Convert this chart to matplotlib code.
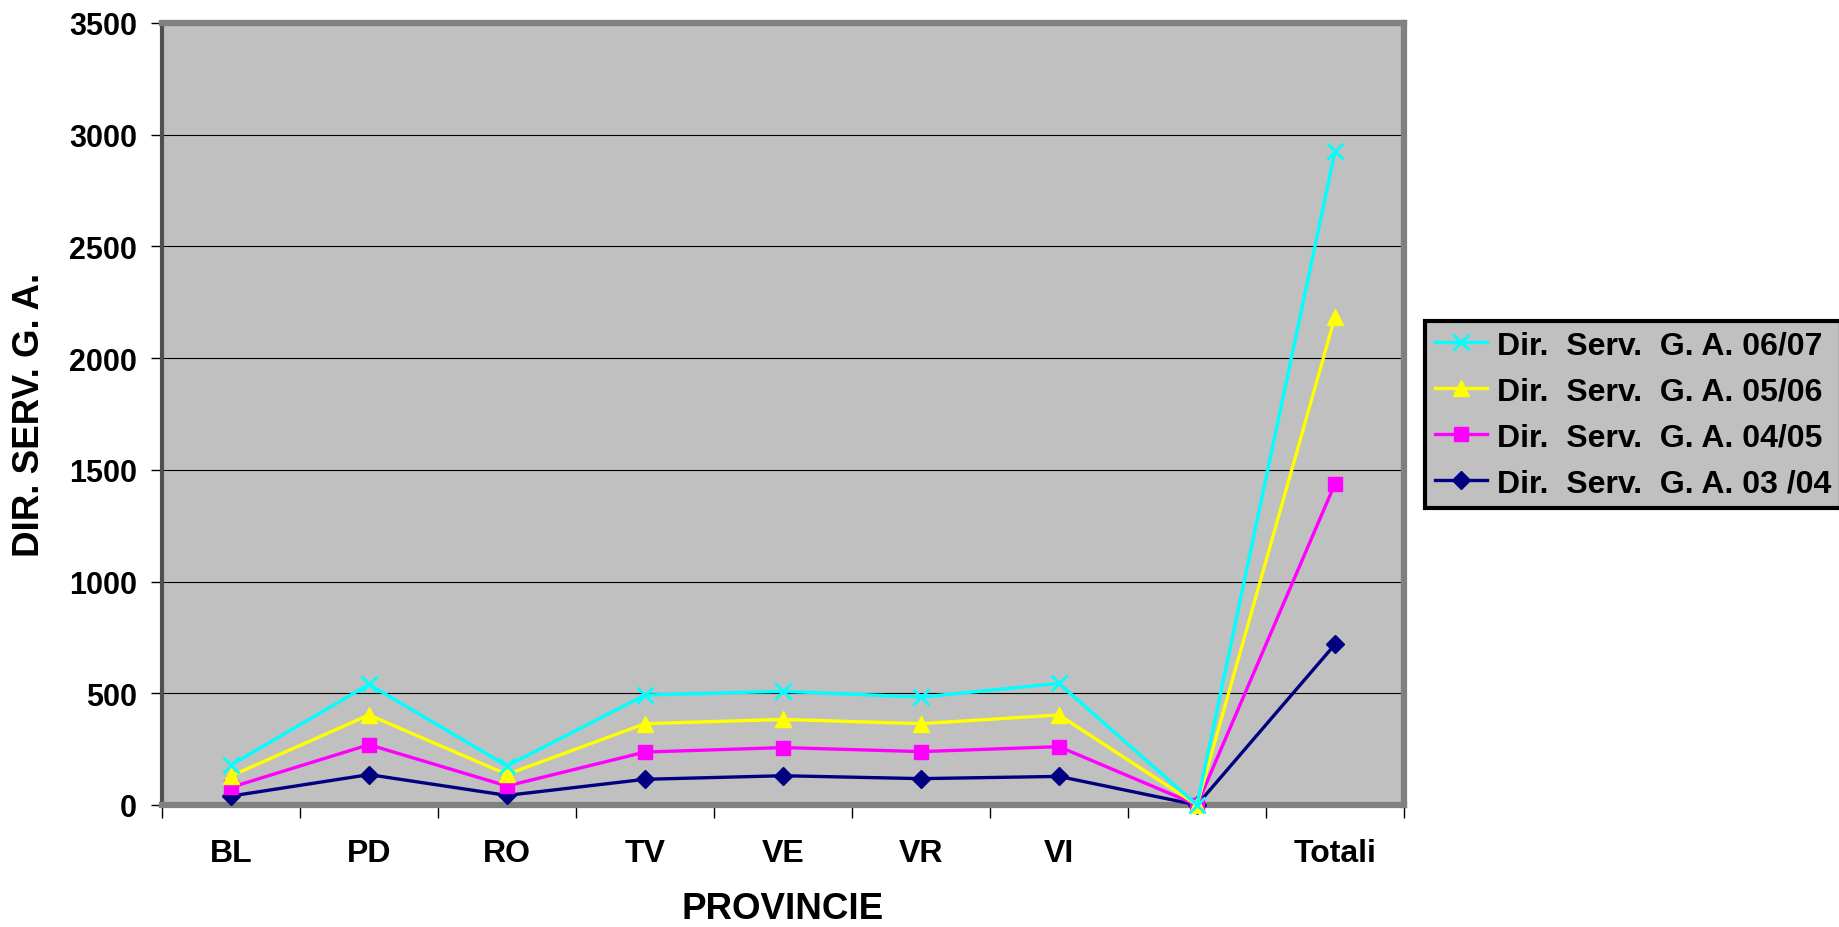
import numpy as np
import matplotlib
matplotlib.use("Agg")
import matplotlib.pyplot as plt

# data
categories = ["BL", "PD", "RO", "TV", "VE", "VR", "VI", "", "Totali"]
ga_0304 = [40, 136, 43, 115, 131, 118, 128, 0, 719]
ga_0405 = [79, 270, 85, 237, 257, 239, 261, 0, 1438]
ga_0506 = [130, 403, 137, 364, 383, 364, 403, 0, 2185]
ga_0607 = [179, 540, 175, 492, 509, 483, 544, 0, 2926]

series = [
    ("Dir.  Serv.  G. A. 03 /04", ga_0304, "#000080", "D", 9),
    ("Dir.  Serv.  G. A. 04/05", ga_0405, "#FF00FF", "s", 10),
    ("Dir.  Serv.  G. A. 05/06", ga_0506, "#FFFF00", "^", 12),
    ("Dir.  Serv.  G. A. 06/07", ga_0607, "#00FFFF", "x", 11),
]

plt.rcParams['font.family'] = ['Liberation Sans', 'DejaVu Sans']
plt.rcParams['font.weight'] = 'bold'

fig = plt.figure(figsize=(18.4, 9.28), dpi=100)
ax = fig.add_axes([162/1840, 1-806/928, 1242/1840, 782/928])
ax.set_facecolor("#C0C0C0")

x = np.arange(len(categories))
handles = []
for i, (lab, vals, col, mk, ms) in enumerate(series):
    h, = ax.plot(x, vals, color=col, lw=2.4, marker=mk, markersize=ms,
                 markeredgewidth=2 if mk == "x" else 1, markeredgecolor=col,
                 markerfacecolor=col, label=lab, clip_on=False, zorder=5+i)
    handles.append(h)

ax.set_xlim(-0.5, len(categories)-0.5)
ax.set_ylim(0, 3500)
ax.set_yticks(np.arange(0, 3501, 500))
ax.yaxis.grid(True, color="black", lw=0.8)
ax.set_axisbelow(True)

# boundaries as major ticks, category names as minor ticks
ax.set_xticks(np.arange(-0.5, len(categories), 1))
ax.set_xticklabels([])
ax.set_xticks(x, minor=True)
ax.set_xticklabels(categories, minor=True)
ax.tick_params(axis="x", which="major", length=9, width=1, color="black")
ax.tick_params(axis="x", which="minor", length=0, pad=24, labelsize=23)
ax.tick_params(axis="y", length=8, width=1, pad=10, labelsize=22)
for t in ax.get_xticklabels(minor=True) + ax.get_yticklabels():
    t.set_fontweight("bold")

for s in ["top", "right", "bottom"]:
    ax.spines[s].set_color("#808080")
    ax.spines[s].set_linewidth(4.5)
ax.spines["left"].set_color("#505050")
ax.spines["left"].set_linewidth(3)

ax.set_xlabel("PROVINCIE", fontsize=26.5, fontweight="bold", va="center")
ax.xaxis.set_label_coords(0.5, -0.132)
ax.set_ylabel("DIR. SERV. G. A.", fontsize=26.5, fontweight="bold", va="center")
ax.yaxis.set_label_coords((30-162)/1242, 0.5)

leg = ax.legend(handles[::-1], [h.get_label() for h in handles[::-1]],
                loc="upper left", bbox_to_anchor=(1425/1840, 1-322/928),
                bbox_transform=fig.transFigure, fancybox=False, framealpha=1,
                facecolor="#C0C0C0", edgecolor="black", fontsize=23,
                handlelength=1.65, handletextpad=0.3, borderpad=0.3,
                labelspacing=0.5, borderaxespad=0)
leg.get_frame().set_linewidth(3)
for t in leg.get_texts():
    t.set_fontweight("bold")

fig.savefig("out.png", dpi=100)
